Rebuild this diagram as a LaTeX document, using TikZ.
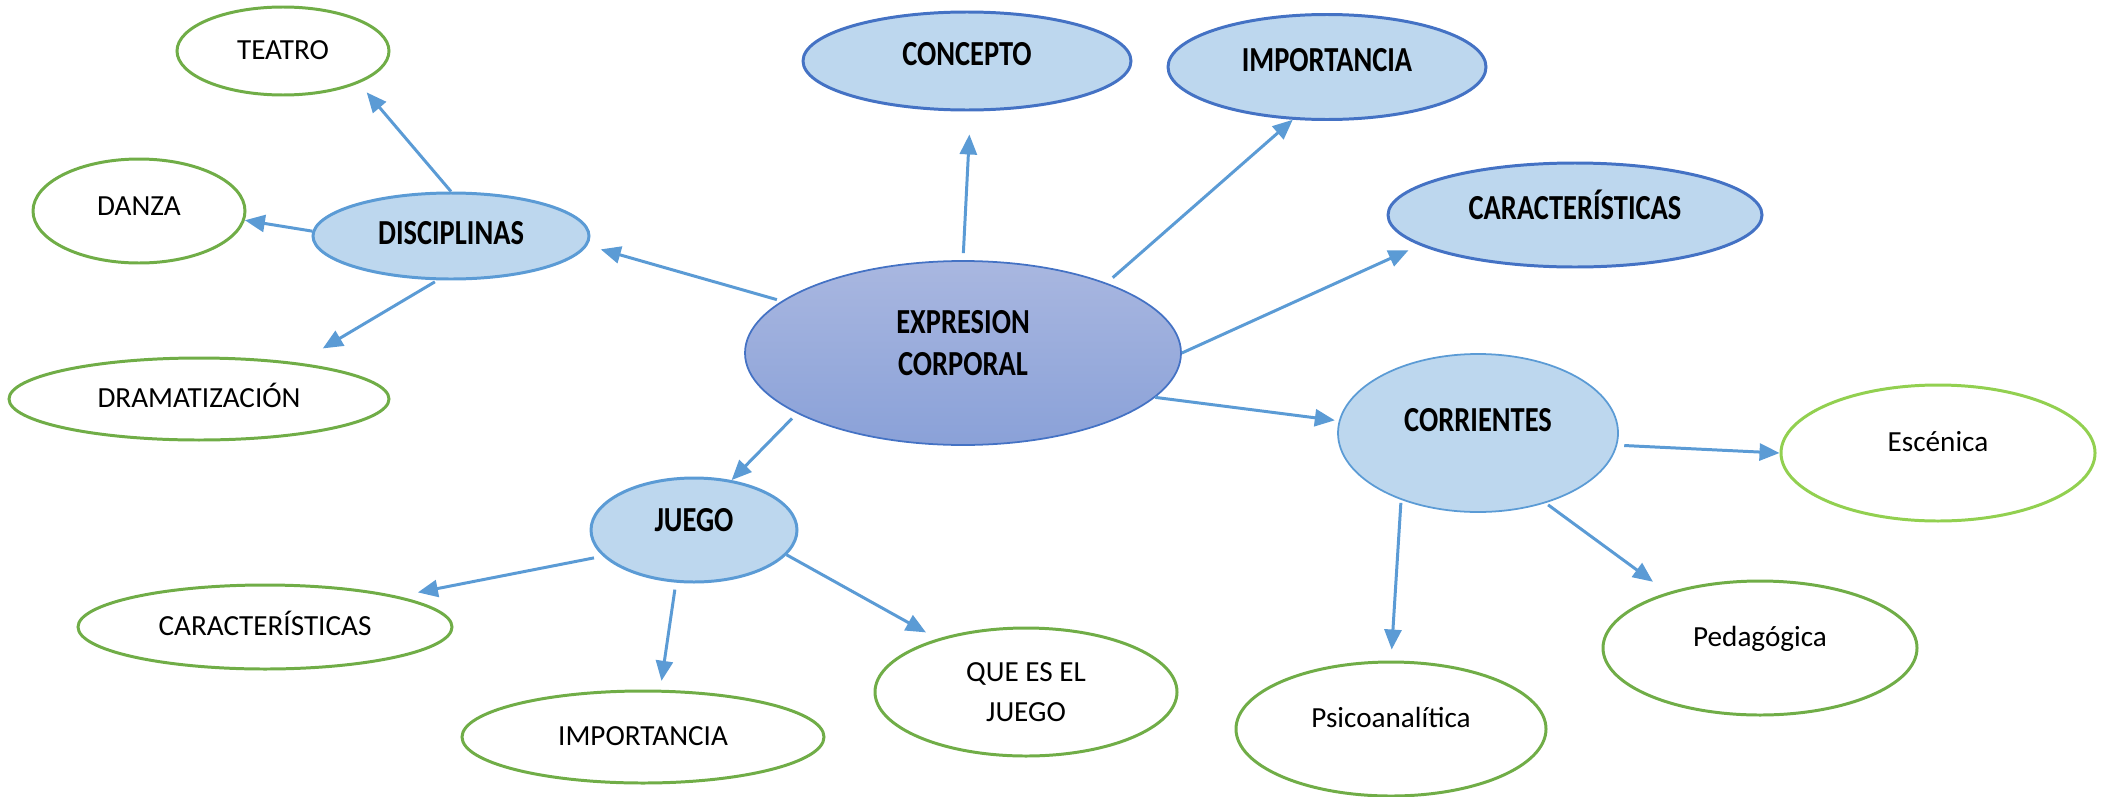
\documentclass[tikz,border=0pt]{standalone}
\usepackage{fontspec}
\setmainfont{Carlito}[BoldFeatures={FakeStretch=0.81}]
\usetikzlibrary{shapes.geometric,arrows.meta}

\definecolor{fillblue}{HTML}{BDD7EE}
\definecolor{darkblue}{HTML}{4472C4}
\definecolor{midblue}{HTML}{5B9BD5}
\definecolor{leafgreen}{HTML}{70AD47}
\definecolor{lightgreen}{HTML}{92D050}
\definecolor{exprtop}{HTML}{A9B7E0}
\definecolor{exprbot}{HTML}{8AA1D8}

\tikzset{
  bubble/.style 2 args={ellipse, inner sep=0pt, minimum width=#1, minimum height=#2, line width=0.85pt},
  topic/.style={fill=fillblue, draw=darkblue, font=\bfseries},
  branch/.style={fill=fillblue, draw=midblue, font=\bfseries},
  leaf/.style={draw=leafgreen},
  lift/.style={text height=6pt, text depth=#1},
  lift/.default=0.9pt,
  link/.style={draw=midblue, line width=0.85pt, -{Triangle[length=2mm,width=1.7mm]}}
}

\begin{document}
\begin{tikzpicture}[x=0.1mm, y=-0.1mm, font=\fontsize{8.3}{11.2}\selectfont]
    \useasboundingbox (0,0) rectangle (2106,796);

    % centre
    \node[bubble={43.6mm}{18.4mm}, top color=exprtop, bottom color=exprbot, draw=darkblue,
          line width=0.5pt, font=\bfseries, align=center, text depth=5.5pt]
          (expr) at (963,353) {EXPRESION\\CORPORAL};

    % top row
    \node[bubble={32.8mm}{9.8mm}, topic, lift=3.7pt] (concepto) at (967,61) {CONCEPTO};
    \node[bubble={31.8mm}{10.5mm}, topic, lift=3.7pt] (importancia) at (1327,67) {IMPORTANCIA};
    \node[bubble={37.4mm}{10.4mm}, topic, lift=3.7pt] (caract) at (1575,215) {CARACTERÍSTICAS};

    % disciplinas
    \node[bubble={27.6mm}{8.6mm}, branch, lift] (disc) at (451,236) {DISCIPLINAS};
    \node[bubble={21.2mm}{8.8mm}, leaf, lift] (teatro) at (283,51) {TEATRO};
    \node[bubble={21.2mm}{10.4mm}, leaf, lift=3.7pt] (danza) at (139,211) {DANZA};
    \node[bubble={38mm}{8.2mm}, leaf, lift] (dramat) at (199,399) {DRAMATIZACIÓN};

    % juego
    \node[bubble={20.6mm}{10.4mm}, branch, lift=4.9pt] (juego) at (694,530) {JUEGO};
    \node[bubble={37.4mm}{8.4mm}, leaf, lift] (caractb) at (265,627) {CARACTERÍSTICAS};
    \node[bubble={36.2mm}{9.2mm}, leaf, lift] (importb) at (643,737) {IMPORTANCIA};
    \node[bubble={30.2mm}{12.8mm}, leaf, align=center] (queju) at (1026,692) {QUE ES EL\\JUEGO};

    % corrientes
    \node[bubble={28mm}{15.8mm}, branch, line width=0.5pt, lift=7.1pt] (corr) at (1478,433) {CORRIENTES};
    \node[bubble={31.4mm}{13.6mm}, draw=lightgreen, lift=7.1pt] (esc) at (1938,453) {Escénica};
    \node[bubble={31.4mm}{13.4mm}, leaf, lift=6.6pt] (ped) at (1760,648) {Pedagógica};
    \node[bubble={31mm}{13.4mm}, leaf, lift=7.1pt] (psico) at (1391,729) {Psicoanalítica};

    % arrows from the centre
    \draw[link, shorten <=0.7mm, shorten >=2.3mm] (expr.90) -- (concepto.-86);
    \draw[link, shorten <=0.8mm] (expr.26) -- (importancia.-123);
    \draw[link, shorten >=1.2mm] (expr.0) -- (caract.-169);
    \draw[link, shorten >=0.4mm] (expr.-13.5) -- (corr.175);
    \draw[link, shorten <=0.7mm] (expr.-160) -- (juego.53);
    \draw[link, shorten <=0.5mm, shorten >=1.4mm] (expr.164.5) -- (disc.-4.7);

    % arrows from the branches
    \draw[link, shorten >=1.2mm] (disc.90) -- (teatro.-23);
    \draw[link] (disc.178) -- (danza.-5);
    \draw[link, shorten <=0.3mm, shorten >=2.8mm] (disc.-107) -- (dramat.20.5);
    \draw[link, shorten <=0.9mm, shorten >=2mm] (juego.-164) -- (caractb.13);
    \draw[link, shorten <=0.7mm, shorten >=0.9mm] (juego.-109) -- (importb.70);
    \draw[link, shorten >=1.3mm] (juego.-15) -- (queju.149);
    \draw[link, shorten <=0.7mm] (corr.-5) -- (esc.180);
    \draw[link, shorten <=0.3mm, shorten >=1.8mm] (corr.-46) -- (ped.149);
    \draw[link, shorten <=0.3mm, shorten >=1.1mm] (corr.-139) -- (psico.90);
\end{tikzpicture}
\end{document}
